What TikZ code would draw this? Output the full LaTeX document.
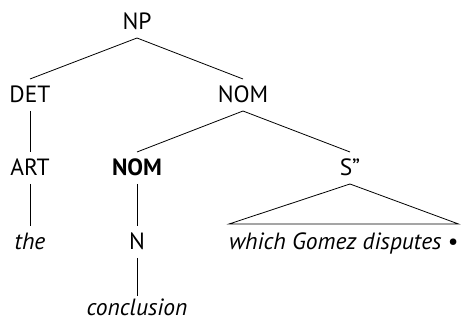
\documentclass[tikz,border=0pt]{standalone}
\usepackage{fontspec}
\setmainfont{PT Sans}
\begin{document}
\begin{tikzpicture}[x=1pt,y=-1pt,
  lab/.style={inner sep=0pt, outer sep=8pt, text height=16pt, text depth=0pt, anchor=base, font=\fontsize{23.5}{27}\selectfont},
  it/.style={lab, font=\fontsize{23.5}{27}\selectfont\itshape},
  edge/.style={draw, line width=0.8pt}]
\useasboundingbox (0,0) rectangle (472,323);
\node[lab] (np) at (137,30) {NP};
\node[lab] (det) at (30,103) {DET};
\node[lab] (nom) at (243,103) {NOM};
\node[lab] (art) at (30,176) {ART};
\node[lab,font=\fontsize{23.5}{27}\selectfont\bfseries] (nom2) at (137,176) {NOM};
\node[lab] (s) at (350,176) {S\char"201D};
\node[it] (the) at (30,250) {the};
\node[lab] (n) at (137,250) {N};
\node[it,outer sep=0pt,text height=26pt,anchor=base west] (wgd) at (229,250) {which Gomez disputes \upshape•};
\node[it,outer sep=4pt] (concl) at (137,316) {conclusion};
\draw[edge] (np.south) -- (det.north);
\draw[edge] (np.south) -- (nom.north);
\draw[edge] (det.south) -- (art.north);
\draw[edge] (nom.south) -- (nom2.north);
\draw[edge] (nom.south) -- (s.north);
\draw[edge] (art.south) -- (the.north);
\draw[edge] (nom2.south) -- (n.north);
\draw[edge] (n.south) -- (concl.north);
\draw[edge] (s.south) -- (wgd.north east) -- (wgd.north west) -- cycle;
\end{tikzpicture}
\end{document}
